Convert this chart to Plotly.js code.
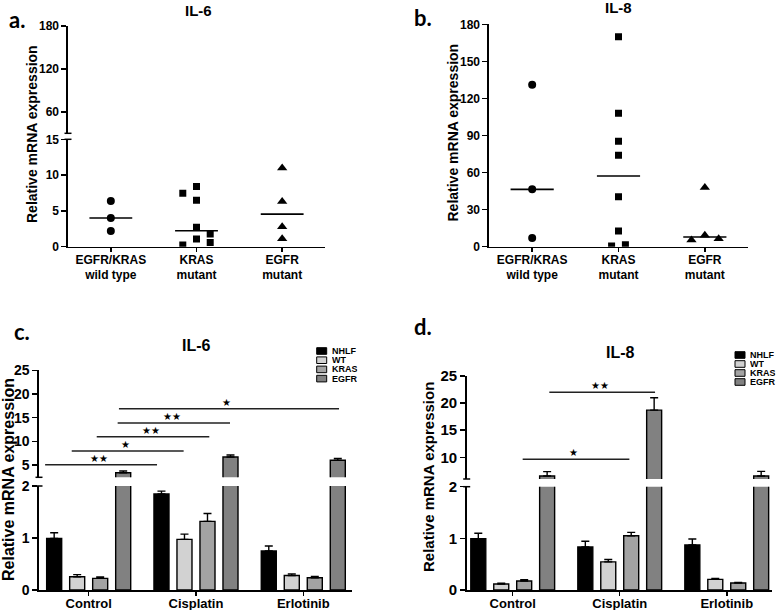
<!DOCTYPE html>
<html><head><meta charset="utf-8">
<script src="https://cdn.plot.ly/plotly-3.0.1.min.js"></script>
<style>html,body{margin:0;padding:0;background:#fff}#chart{width:778px;height:610px}</style>
</head><body><div id="chart"></div>
<script>
// ---------- data ----------
const scatterGroups = ['EGFR/KRAS<br>wild type', 'KRAS<br>mutant', 'EGFR<br>mutant'];
const il6WildType   = [6.4, 4.0, 2.2];
const il6KrasMutant = [7.45, 8.4, 6.5, 2.7, 1.07, 1.77, 0.24, 0.6];
const il6EgfrMutant = [11.0, 6.3, 2.8, 1.1];
const il8WildType   = [131, 46.4, 7.0];
const il8KrasMutant = [170, 108, 85.3, 74, 40.5, 12.7, 0.5, 1.6];
const il8EgfrMutant = [48, 9.2, 5.4, 6.5];
// horizontal spread of the dots inside a column (category units)
const il6WildJitter = [0, 0, 0];
const il6KrasJitter = [-0.16, 0, 0, 0, 0, 0.16, -0.16, 0.16];
const il6EgfrJitter = [0, 0, 0, 0];
const il8WildJitter = [0, 0, 0];
const il8KrasJitter = [0, 0, 0, 0, 0, 0, -0.08, 0.08];
const il8EgfrJitter = [0, 0, -0.155, 0.16];

const treatments = ['Control', 'Cisplatin', 'Erlotinib'];
const cellLines  = ['NHLF', 'WT', 'KRAS', 'EGFR'];
const il6Nhlf = [0.99, 1.846, 0.75];   const il6NhlfErr = [0.11, 0.055, 0.096];
const il6Wt   = [0.256, 0.974, 0.28];  const il6WtErr   = [0.04, 0.10, 0.03];
const il6Kras = [0.224, 1.32, 0.237];  const il6KrasErr = [0.026, 0.15, 0.023];
const il6Egfr = [3.37, 6.7, 6.0];      const il6EgfrErr = [0.36, 0.4, 0.4];
const il8Nhlf = [0.994, 0.833, 0.872]; const il8NhlfErr = [0.105, 0.11, 0.115];
const il8Wt   = [0.115, 0.545, 0.205]; const il8WtErr   = [0.015, 0.045, 0.02];
const il8Kras = [0.173, 1.05, 0.135];  const il8KrasErr = [0.027, 0.065, 0.012];
const il8Egfr = [6.56, 18.7, 6.56];    const il8EgfrErr = [0.8, 2.3, 0.85];

// ---------- helpers ----------
const W = 778, H = 610;
const px = v => v / W;
const py = v => 1 - v / H;
const FONT = 'Liberation Sans, Arial, sans-serif';
const median = arr => { const s = [...arr].sort((a, b) => a - b); const m = s.length >> 1; return s.length % 2 ? s[m] : (s[m - 1] + s[m]) / 2; };

const traces = [];
function dotColumn(vals, jit, idx, symbol, size, xa, ya) {
  traces.push({ type: 'scatter', mode: 'markers', x: vals.map((v, i) => idx + jit[i]), y: vals,
    xaxis: xa, yaxis: ya, marker: { symbol: symbol, size: size, color: '#000' }, showlegend: false, hoverinfo: 'y' });
  const m = median(vals);
  traces.push({ type: 'scatter', mode: 'lines', x: [idx - 0.25, idx + 0.25], y: [m, m],
    xaxis: xa, yaxis: ya, line: { color: '#000', width: 1.6 }, showlegend: false, hoverinfo: 'skip' });
}
dotColumn(il6WildType, il6WildJitter, 0, 'circle', 8, 'x', 'y');
dotColumn(il6KrasMutant, il6KrasJitter, 1, 'square', 7, 'x', 'y');
dotColumn(il6EgfrMutant, il6EgfrJitter, 2, 'triangle-up', 9, 'x', 'y');
// upper (broken) segment of panel a: medians again, all fall below its range
traces.push({ type: 'scatter', mode: 'markers', x: [0, 1, 2], y: [median(il6WildType), median(il6KrasMutant), median(il6EgfrMutant)],
  xaxis: 'x', yaxis: 'y2', marker: { size: 0.1, color: 'rgba(0,0,0,0)' }, showlegend: false, hoverinfo: 'skip' });
dotColumn(il8WildType, il8WildJitter, 0, 'circle', 8, 'x2', 'y3');
dotColumn(il8KrasMutant, il8KrasJitter, 1, 'square', 7, 'x2', 'y3');
dotColumn(il8EgfrMutant, il8EgfrJitter, 2, 'triangle-up', 9, 'x2', 'y3');

const barColors = ['#000000', '#d2d2d2', '#a3a3a3', '#818181'];
const slot = 0.2144, bw = 0.14;
function barSet(series, errs, xa, yaLow, yaHigh) {
  series.forEach((vals, i) => {
    [yaLow, yaHigh].forEach(ya => {
      traces.push({ type: 'bar', x: treatments, y: vals, xaxis: xa, yaxis: ya, name: cellLines[i],
        width: bw, offset: (i - 1.5) * slot - bw / 2,
        marker: { color: barColors[i], line: { color: '#000', width: 1.4 } },
        error_y: { type: 'data', array: errs[i], arrayminus: vals.map(() => 0), symmetric: false,
          color: '#000', thickness: 1.4, width: 4 },
        showlegend: false });
    });
  });
}
barSet([il6Nhlf, il6Wt, il6Kras, il6Egfr], [il6NhlfErr, il6WtErr, il6KrasErr, il6EgfrErr], 'x3', 'y4', 'y5');
barSet([il8Nhlf, il8Wt, il8Kras, il8Egfr], [il8NhlfErr, il8WtErr, il8KrasErr, il8EgfrErr], 'x4', 'y6', 'y7');

// ---------- axes ----------
const axBase = { showline: true, linecolor: '#000', linewidth: 1.6, ticks: 'outside', ticklen: 5, tickwidth: 1.5,
  tickcolor: '#000', showgrid: false, zeroline: false, fixedrange: true };
const tf = s => ({ family: FONT, size: s, color: '#000', weight: 'bold' });

const layout = {
  width: W, height: H, margin: { l: 0, r: 0, t: 0, b: 0 }, paper_bgcolor: '#fff', plot_bgcolor: 'rgba(0,0,0,0)',
  barmode: 'overlay', showlegend: false,
  // panel a
  xaxis: Object.assign({}, axBase, { domain: [px(68), px(325)], anchor: 'y', range: [-0.5, 2.5],
    tickvals: [0, 1, 2], ticktext: scatterGroups, ticklen: 4, ticklabelstandoff: -3, tickfont: tf(12) }),
  yaxis: Object.assign({}, axBase, { domain: [py(246.7), py(139.3)], anchor: 'x', range: [0, 15],
    tickvals: [0, 5, 10, 15], tickfont: tf(12) }),
  yaxis2: Object.assign({}, axBase, { domain: [py(133.3), py(26)], anchor: 'x', range: [30, 180],
    tickvals: [60, 120, 180], tickfont: tf(12) }),
  // panel b
  xaxis2: Object.assign({}, axBase, { domain: [px(489), px(748)], anchor: 'y3', range: [-0.5, 2.5],
    tickvals: [0, 1, 2], ticktext: scatterGroups, ticklen: 4, ticklabelstandoff: -3, tickfont: tf(12) }),
  yaxis3: Object.assign({}, axBase, { domain: [py(246.7), py(24.3)], anchor: 'x2', range: [0, 180],
    dtick: 30, tickfont: tf(12) }),
  // panel c
  xaxis3: Object.assign({}, axBase, { domain: [px(39), px(352)], anchor: 'y4', type: 'category',
    categoryarray: treatments, range: [-0.463, 2.454], ticklen: 4, ticklabelstandoff: -3, tickfont: tf(13) }),
  yaxis4: Object.assign({}, axBase, { domain: [py(590), py(486)], anchor: 'x3', range: [0, 2],
    tickvals: [0, 1, 2], tickfont: tf(14) }),
  yaxis5: Object.assign({}, axBase, { domain: [py(477.3), py(370.3)], anchor: 'x3', range: [2.4, 25],
    tickvals: [5, 10, 15, 20, 25], tickfont: tf(14) }),
  // panel d
  xaxis4: Object.assign({}, axBase, { domain: [px(466.7), px(771.7)], anchor: 'y6', type: 'category',
    categoryarray: treatments, range: [-0.43, 2.42], ticklen: 4, ticklabelstandoff: -3, tickfont: tf(13) }),
  yaxis6: Object.assign({}, axBase, { domain: [py(590), py(486.7)], anchor: 'x4', range: [0, 2],
    tickvals: [0, 1, 2], tickfont: tf(15) }),
  yaxis7: Object.assign({}, axBase, { domain: [py(479), py(376)], anchor: 'x4', range: [6, 25],
    tickvals: [10, 15, 20, 25], tickfont: tf(15) }),
  shapes: [],
  annotations: []
};

const ann = layout.annotations, shp = layout.shapes;
function text(t, x, y, size, opts) {
  ann.push(Object.assign({ text: t, x: px(x), y: py(y), xref: 'paper', yref: 'paper', showarrow: false,
    xanchor: 'center', yanchor: 'middle', font: tf(size) }, opts || {}));
}
// panel titles and labels
text('IL-6', 198, 11, 15); text('IL-8', 618, 8, 15);
text('IL-6', 196, 345, 16); text('IL-8', 620, 352, 16);
const lab = { family: 'Lato, Open Sans, sans-serif', size: 22, color: '#000', weight: 'bold' };
text('a.', 17, 19, 22, { font: lab }); text('b.', 423, 18, 22, { font: lab });
text('c.', 22, 331, 22, { font: lab }); text('d.', 423, 326, 22, { font: lab });
// y titles
text('Relative mRNA expression', 32, 134, 14, { textangle: -90 });
text('Relative mRNA expression', 452.5, 132, 14, { textangle: -90 });
text('Relative mRNA expression', 8, 480, 16, { textangle: -90 });
text('Relative mRNA expression', 428, 477, 15, { textangle: -90 });

// axis break caps
function cap(x, y) { shp.push({ type: 'line', xref: 'paper', yref: 'paper', x0: px(x - 3.5), x1: px(x + 3.5), y0: py(y), y1: py(y), line: { color: '#000', width: 1.5 } }); }
cap(68, 133.3); cap(68, 139.3);
cap(39, 477.3); cap(39, 486);
cap(466.7, 479); cap(466.7, 486.7);

// legends (compact, built from the series names)
function legend(x0, y0, step) {
  cellLines.forEach((n, i) => {
    const yc = y0 + i * step;
    shp.push({ type: 'rect', xref: 'paper', yref: 'paper', x0: px(x0), x1: px(x0 + 10), y0: py(yc - 3.3), y1: py(yc + 3.3),
      fillcolor: barColors[i], line: { color: '#000', width: 1 } });
    text(n, x0 + 14, yc, 9, { xanchor: 'left', height: 8, borderpad: 0, valign: 'middle' });
  });
}
legend(316.7, 351, 9.2); legend(735, 355, 9);

// significance brackets
function sig(xa, ya, x0, x1, y, stars) {
  shp.push({ type: 'line', xref: xa, yref: ya, x0: x0, x1: x1, y0: y, y1: y, line: { color: '#222', width: 1.5 } });
  ann.push({ text: stars, xref: xa, yref: ya, x: (x0 + x1) / 2 - 0.02, y: y, yanchor: 'bottom', showarrow: false, yshift: -1,
    font: { family: 'DejaVu Sans', size: 10, color: '#000' } });
}
sig('x3', 'y5', -0.406, 0.637, 5.06, '★★');
sig('x3', 'y5', -0.158, 0.885, 7.96, '★');
sig('x3', 'y5', 0.075, 1.124, 10.98, '★★');
sig('x3', 'y5', 0.270, 1.317, 13.87, '★★');
sig('x3', 'y5', 0.282, 2.333, 16.89, '★');
sig('x4', 'y7', 0.342, 1.33, 22.0, '★★');
sig('x4', 'y7', 0.093, 1.09, 9.63, '★');

Plotly.newPlot('chart', traces, layout, { displayModeBar: false, staticPlot: true });
</script></body></html>
